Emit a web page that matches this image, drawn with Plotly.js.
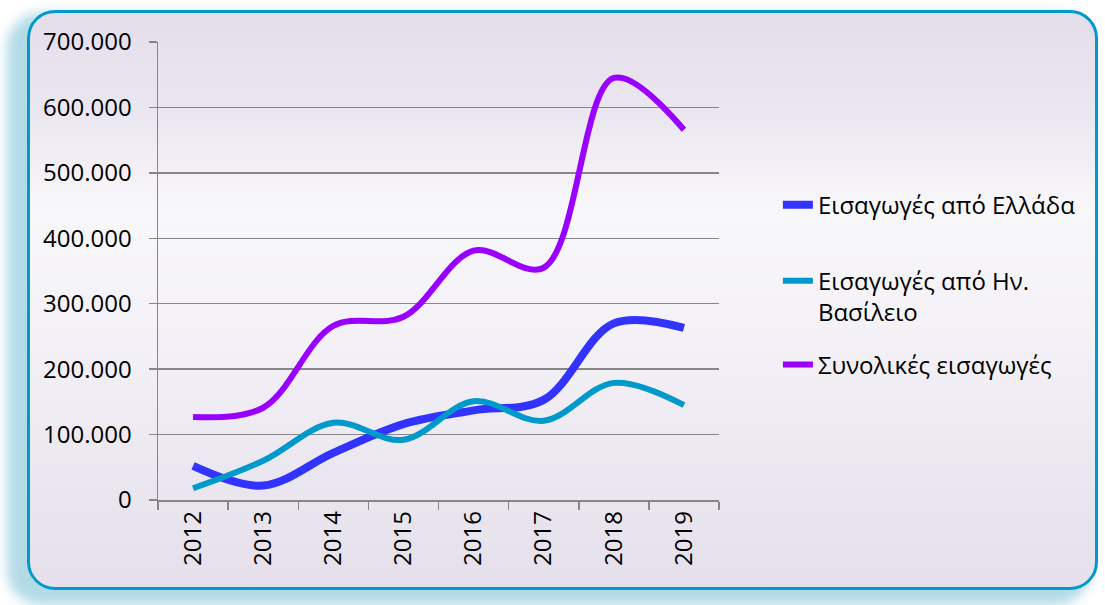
<!DOCTYPE html>
<html>
<head>
<meta charset="utf-8">
<script src="https://cdn.plot.ly/plotly-3.0.1.min.js"></script>
<style>
  html, body { margin: 0; padding: 0; background: #ffffff; width: 1105px; height: 605px; overflow: hidden; }
  #frame {
    position: absolute; left: 27px; top: 10px; width: 1065px; height: 574px;
    border: 3px solid #0099cc; border-radius: 28px;
    background: linear-gradient(to bottom, #e4deea 0%, #ebe7f0 18%, #f8f7fa 34%, #f4f2f7 55%, #ebe7f0 80%, #e5e0eb 100%);
    box-shadow: -14px 9px 12px 6px rgba(170, 215, 228, 0.9);
  }
  #chart { position: absolute; left: 0; top: 0; width: 1105px; height: 605px; }
</style>
</head>
<body>
<div id="frame"></div>
<div id="chart"></div>
<script>
const years = ['2012', '2013', '2014', '2015', '2016', '2017', '2018', '2019'];
const greece = [52000, 22000, 72000, 116000, 137000, 153000, 270000, 263000];
const uk = [18000, 60000, 118000, 92000, 151000, 121000, 179000, 145000];
const total = [127000, 141000, 266000, 280000, 381000, 355000, 645000, 566000];
const seriesNames = ['Εισαγωγές από Ελλάδα', 'Εισαγωγές από Ην.<br>Βασίλειο', 'Συνολικές εισαγωγές'];
const yTicks = [0, 100000, 200000, 300000, 400000, 500000, 600000, 700000];

const font = "'Open Sans', 'Noto Sans', sans-serif";
const fs = 24;

const traces = [
  { x: years, y: greece, name: seriesNames[0], mode: 'lines', legend: 'legend',
    line: { color: '#3333ff', width: 8, shape: 'spline', smoothing: 1 } },
  { x: years, y: uk, name: seriesNames[1], mode: 'lines', legend: 'legend2',
    line: { color: '#0099cc', width: 6, shape: 'spline', smoothing: 1 } },
  { x: years, y: total, name: seriesNames[2], mode: 'lines', legend: 'legend3',
    line: { color: '#9900ff', width: 6, shape: 'spline', smoothing: 1 } }
];

function leg(y, valign) {
  return {
    x: 1.105, y: y, xanchor: 'left', yanchor: 'middle',
    bgcolor: 'rgba(0,0,0,0)', borderwidth: 0, valign: valign,
    font: { family: font, size: fs, color: '#000000' }
  };
}

const layout = {
  width: 1105, height: 605,
  paper_bgcolor: 'rgba(0,0,0,0)', plot_bgcolor: 'rgba(0,0,0,0)',
  separators: ',.',
  font: { family: font, size: fs, color: '#000000' },
  margin: { l: 158, r: 386, t: 42, b: 105, pad: 0 },
  showlegend: true,
  legend: leg(0.644, 'middle'),
  legend2: leg(0.444, 'top'),
  legend3: leg(0.2948, 'middle'),
  xaxis: {
    type: 'category', categoryarray: years, range: [-0.5, 7.5],
    showgrid: false, showline: true, linecolor: '#868686', linewidth: 1.5,
    ticks: 'outside', ticklen: 8, tickcolor: '#868686', tickwidth: 1.5,
    tickson: 'boundaries', tickangle: -90,
    tickfont: { family: font, size: fs, color: '#000000' },
    zeroline: false, fixedrange: true
  },
  yaxis: {
    range: [0, 700000], tickvals: yTicks, tickformat: ',d',
    showgrid: true, gridcolor: '#868686', gridwidth: 1.5,
    showline: true, linecolor: '#868686', linewidth: 1.5,
    ticks: 'outside', ticklen: 8, tickcolor: '#868686', tickwidth: 1.5,
    ticklabelstandoff: 12,
    tickfont: { family: font, size: fs, color: '#000000' },
    zeroline: false, fixedrange: true
  }
};

Plotly.newPlot('chart', traces, layout, { displayModeBar: false, staticPlot: true });
</script>
</body>
</html>
